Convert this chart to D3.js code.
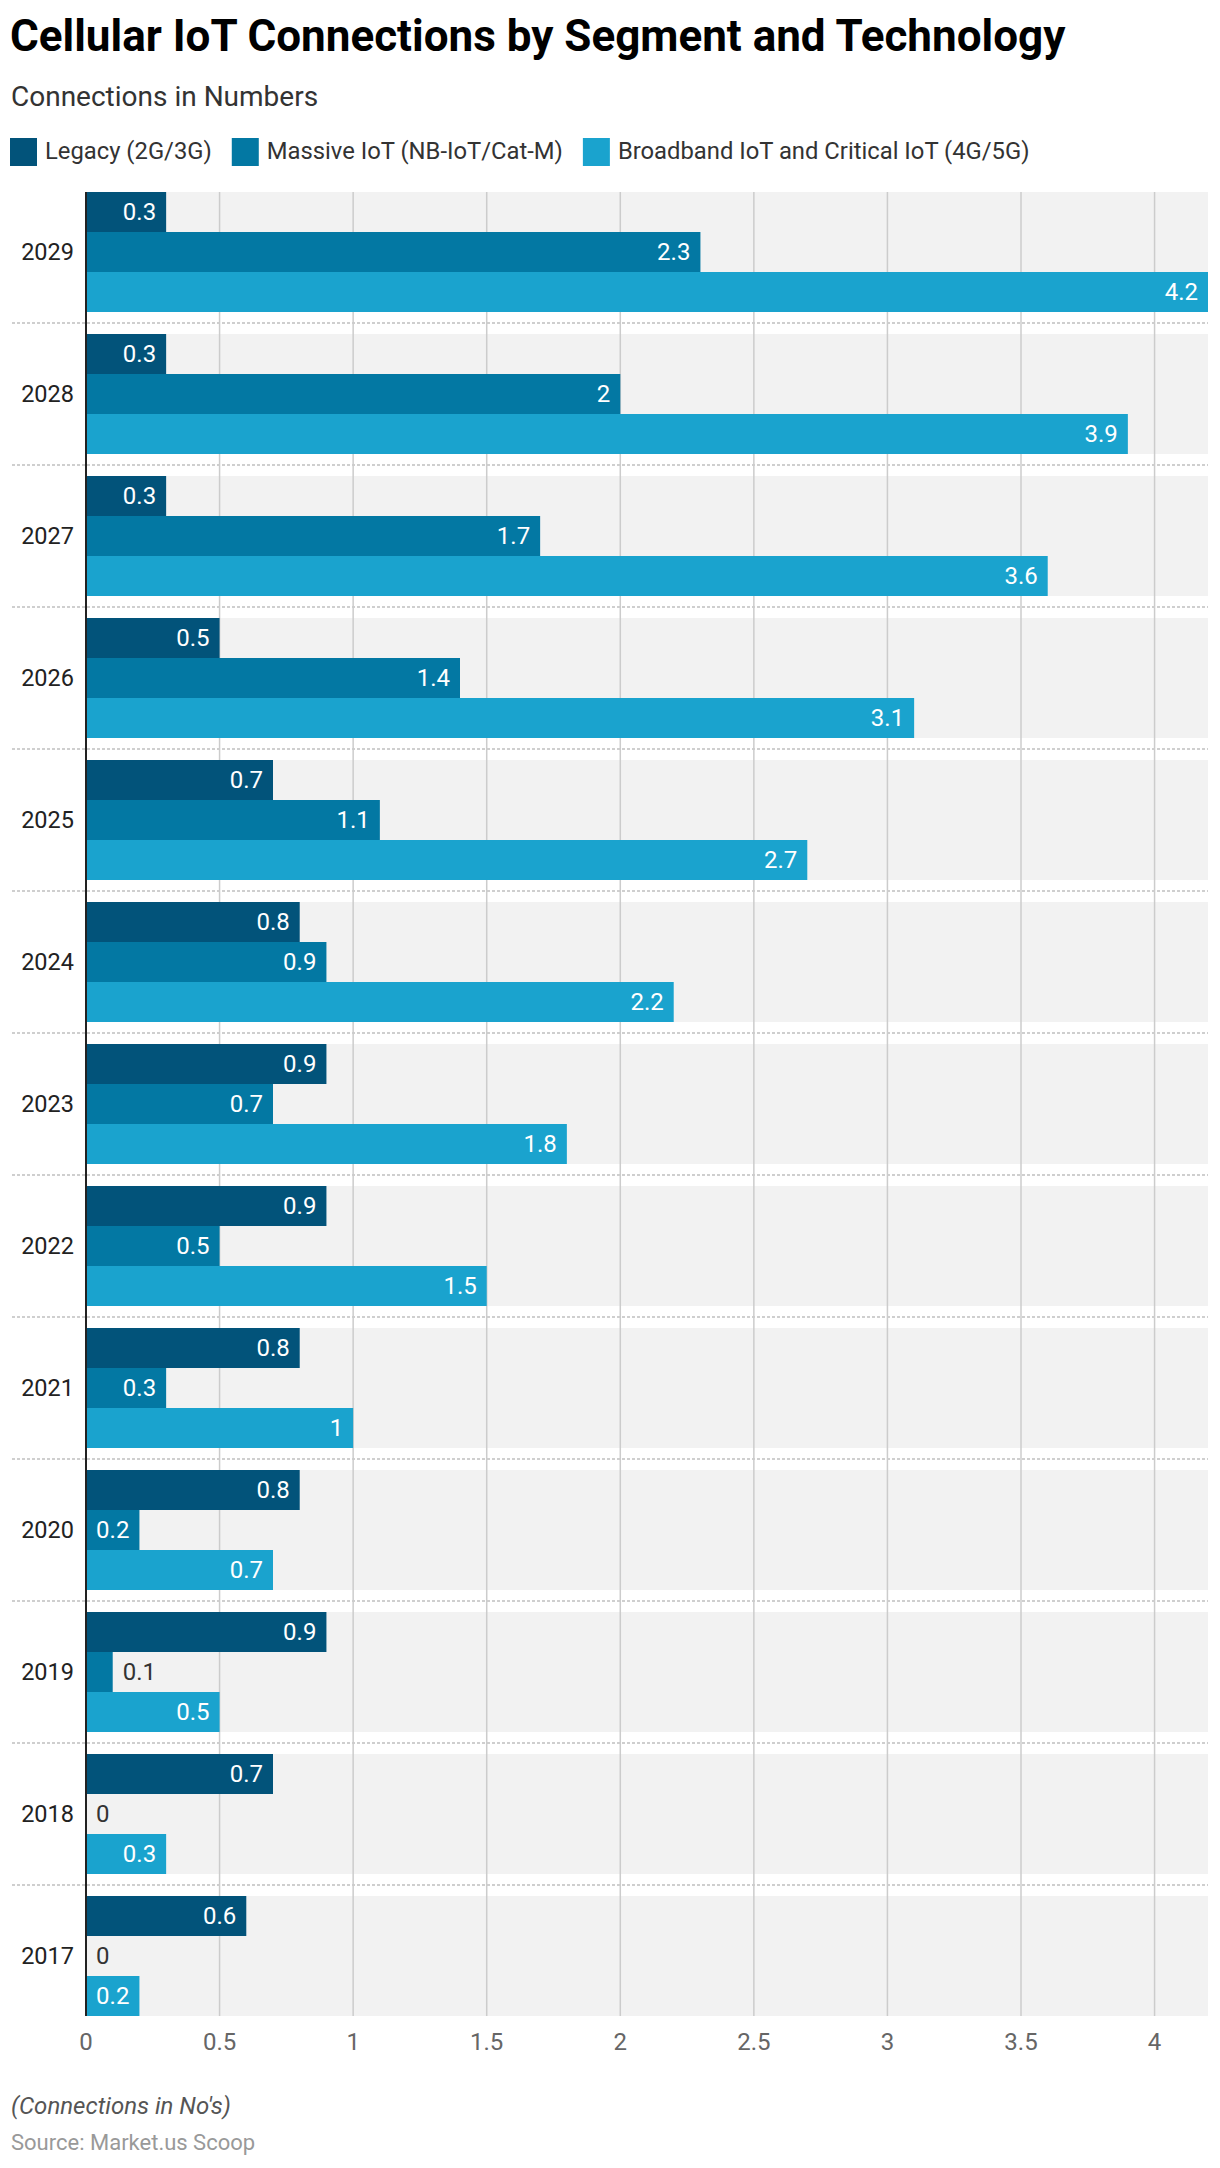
<!DOCTYPE html>
<html>
<head>
<meta charset="utf-8">
<script src="https://cdn.jsdelivr.net/npm/d3@7"></script>
<style>
  html, body { margin: 0; padding: 0; background: #fff; }
  svg { display: block; font-family: Roboto, "Noto Sans", sans-serif; }
</style>
</head>
<body>
<svg id="chart" width="1220" height="2168"></svg>
<script>
const years = ["2029","2028","2027","2026","2025","2024","2023","2022","2021","2020","2019","2018","2017"];
const seriesNames = ["Legacy (2G/3G)", "Massive IoT (NB-IoT/Cat-M)", "Broadband IoT and Critical IoT (4G/5G)"];
const legacy    = [0.3, 0.3, 0.3, 0.5, 0.7, 0.8, 0.9, 0.9, 0.8, 0.8, 0.9, 0.7, 0.6];
const massive   = [2.3, 2.0, 1.7, 1.4, 1.1, 0.9, 0.7, 0.5, 0.3, 0.2, 0.1, 0, 0];
const broadband = [4.2, 3.9, 3.6, 3.1, 2.7, 2.2, 1.8, 1.5, 1.0, 0.7, 0.5, 0.3, 0.2];
const xTicks = [0, 0.5, 1, 1.5, 2, 2.5, 3, 3.5, 4];
const colors = ["#02537a", "#0378a3", "#1aa3ce"];

const seriesValues = [legacy, massive, broadband];

const svg = d3.select("#chart");

// Title / subtitle
svg.append("text").attr("x", 10).attr("y", 51)
  .attr("font-size", 44).attr("font-weight", 700).attr("fill", "#000")
  .text("Cellular IoT Connections by Segment and Technology");
svg.append("text").attr("x", 11).attr("y", 106)
  .attr("font-size", 28).attr("fill", "#333")
  .text("Connections in Numbers");

// Legend
let lx = 10;
seriesNames.forEach((name, i) => {
  svg.append("rect").attr("x", lx).attr("y", 138).attr("width", 27).attr("height", 28).attr("fill", colors[i]);
  const t = svg.append("text").attr("x", lx + 35).attr("y", 159)
    .attr("font-size", 23.8).attr("fill", "#333").text(name);
  lx += 35 + t.node().getComputedTextLength() + 20;
});

// Scales
const x = d3.scaleLinear().domain([0, 4.2]).range([86, 1208]);
const y = d3.scaleBand().domain(years).range([181, 2027])
  .paddingInner(22 / 142).paddingOuter(11 / 142);
const ySub = d3.scaleBand().domain(d3.range(3)).range([0, y.bandwidth()]);

const plotTop = y(years[0]);
const plotBottom = y(years[years.length - 1]) + y.bandwidth();

// Background bands
svg.append("g").selectAll("rect").data(years).join("rect")
  .attr("x", x(0)).attr("y", d => y(d))
  .attr("width", x(4.2) - x(0)).attr("height", y.bandwidth())
  .attr("fill", "#f2f2f2");

// Separators between groups
svg.append("g").selectAll("line").data(years.slice(1)).join("line")
  .attr("x1", 12).attr("x2", x(4.2))
  .attr("y1", d => y(d) - y.step() * y.paddingInner() / 2)
  .attr("y2", d => y(d) - y.step() * y.paddingInner() / 2)
  .attr("stroke", "#cfcfcf").attr("stroke-width", 2).attr("stroke-dasharray", "3,2");

// Gridlines
svg.append("g").selectAll("line").data(xTicks.filter(t => t > 0)).join("line")
  .attr("x1", d => x(d)).attr("x2", d => x(d))
  .attr("y1", plotTop).attr("y2", plotBottom)
  .attr("stroke", "#cccccc").attr("stroke-width", 1.5);

// Bars
const fmt = v => String(v);
years.forEach((yr, yi) => {
  seriesValues.forEach((vals, si) => {
    const v = vals[yi];
    const by = y(yr) + ySub(si);
    const bh = ySub.bandwidth();
    svg.append("rect").attr("x", x(0)).attr("y", by)
      .attr("width", x(v) - x(0)).attr("height", bh).attr("fill", colors[si]);
    const lbl = svg.append("text").attr("y", by + bh / 2).attr("dy", "0.35em")
      .attr("font-size", 24).text(fmt(v));
    const w = lbl.node().getComputedTextLength();
    const barW = x(v) - x(0);
    if (w + 20 <= barW) {
      lbl.attr("x", x(v) - 10).attr("text-anchor", "end").attr("fill", "#fff");
    } else {
      lbl.attr("x", x(v) + 10).attr("text-anchor", "start").attr("fill", "#333");
    }
  });
});

// Y labels
svg.append("g").selectAll("text").data(years).join("text")
  .attr("x", 74).attr("y", d => y(d) + y.bandwidth() / 2).attr("dy", "0.35em")
  .attr("text-anchor", "end").attr("font-size", 23.5).attr("fill", "#222")
  .text(d => d);

// Axis line
svg.append("line").attr("x1", x(0)).attr("x2", x(0))
  .attr("y1", plotTop).attr("y2", plotBottom)
  .attr("stroke", "#222").attr("stroke-width", 2);

// X tick labels
svg.append("g").selectAll("text").data(xTicks).join("text")
  .attr("x", d => x(d)).attr("y", 2050).attr("text-anchor", "middle")
  .attr("font-size", 24).attr("fill", "#666").text(d => String(d));

// Footer
svg.append("text").attr("x", 11).attr("y", 2114)
  .attr("font-size", 24).attr("font-style", "italic").attr("fill", "#555")
  .text("(Connections in No's)");
svg.append("text").attr("x", 11).attr("y", 2150)
  .attr("font-size", 22).attr("fill", "#999")
  .text("Source: Market.us Scoop");
</script>
</body>
</html>
